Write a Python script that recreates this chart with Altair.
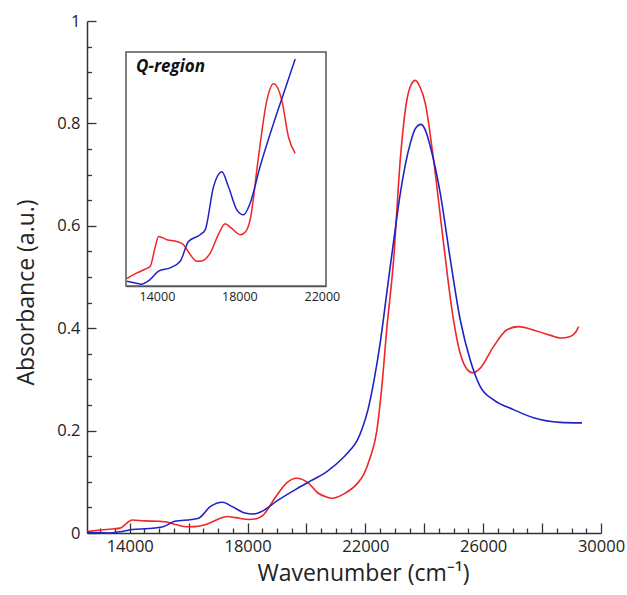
import altair as alt
import pandas as pd

# ---------------- data ----------------
blue_wn = [12550, 13000, 13230, 13675, 14080, 14645, 15130, 15530, 16100, 16340,
           16745, 17150, 17470, 17875, 18200, 18520, 19000, 19655, 20140, 20705,
           21260, 21500, 21715, 21900, 22085, 22300, 22500, 22730, 22960, 23185,
           23525, 23700, 23890, 24050, 24205, 24545, 24885, 25220, 25560, 25900,
           26355, 27030, 27710, 28620, 29355]
blue_ab = [0.0015, 0.0005, 0.0, 0.0025, 0.0069, 0.0087, 0.0122, 0.0228, 0.0264, 0.029,
           0.052, 0.060, 0.052, 0.0397, 0.037, 0.0432, 0.0627, 0.0858, 0.1017, 0.1203,
           0.148, 0.163, 0.180, 0.205, 0.240, 0.30, 0.37, 0.47, 0.57, 0.663,
           0.761, 0.79, 0.798, 0.785, 0.755, 0.663, 0.534, 0.417, 0.338, 0.286,
           0.260, 0.241, 0.225, 0.216, 0.215]

red_wn = [12550, 13030, 13400, 13675, 13918, 14080, 14485, 14970, 15290,
          15600, 15940, 16200, 16585, 17000, 17310, 17600, 18040, 18300, 18520,
          18925, 19330, 19655, 20060, 20380, 20705, 20850, 21320, 21700, 21950,
          22150, 22390, 22550, 22730, 22960, 23185, 23410, 23550, 23695, 23850,
          24035, 24315, 24655, 24940, 25220, 25450, 25650, 25900, 26350, 26810,
          27200, 27830, 28300, 28620, 28960, 29150, 29240]
red_ab = [0.003, 0.006, 0.0078, 0.0095, 0.020, 0.0255, 0.0237, 0.0228, 0.021,
          0.016, 0.0122, 0.0125, 0.0166, 0.027, 0.0322, 0.030, 0.0264, 0.028, 0.0343,
          0.068, 0.098, 0.107, 0.098, 0.0786, 0.0698, 0.068, 0.078, 0.095, 0.115,
          0.145, 0.20, 0.28, 0.40, 0.534, 0.729, 0.846, 0.875, 0.884, 0.872,
          0.839, 0.729, 0.566, 0.436, 0.351, 0.320, 0.313, 0.322, 0.364, 0.397,
          0.403, 0.394, 0.386, 0.381, 0.384, 0.393, 0.403]

series_names = ["red", "blue"]
series_colors = ["#ee2529", "#2222c4"]

x_ticks = list(range(13000, 30001, 500))
y_ticks = [round(i * 0.05, 2) for i in range(21)]
inset_x_ticks = list(range(13000, 22001, 500))

main_x_domain = [12550, 30000]
main_y_domain = [0, 1]
inset_x_domain = [12500, 22200]
inset_y_domain = [-0.001, 0.124]
inset_max_wn = 20710

FONT = "Open Sans"

# ---------------- tables ----------------
df = pd.concat([
    pd.DataFrame({"wn": red_wn, "ab": red_ab, "series": "red"}),
    pd.DataFrame({"wn": blue_wn, "ab": blue_ab, "series": "blue"}),
], ignore_index=True)
df_inset = df[df["wn"] <= inset_max_wn]

color = alt.Color("series:N", scale=alt.Scale(domain=series_names, range=series_colors), legend=None)

# ---------------- main panel ----------------
main_x_axis = alt.Axis(
    title="Wavenumber (cm⁻¹)", values=x_ticks, grid=False,
    tickSize={"expr": "datum.value % 2000 == 0 ? -10 : -5"},
    labelExpr="datum.value % 4000 == 2000 ? format(datum.value, 'd') : ''",
    labelPadding=15, labelFlush=False, labelOverlap=False,
    labelFont=FONT, labelFontSize=16.5, labelColor="#222",
    titleFont=FONT, titleFontSize=23, titleFontWeight="normal", titleColor="#222",
    titlePadding=3, titleX=276,
    domainColor="#333", domainWidth=1.5, tickColor="#333", tickWidth=1.3,
)
main_y_axis = alt.Axis(
    title="Absorbance (a.u.)", values=y_ticks, grid=False,
    tickSize={"expr": "round(datum.value * 100) % 20 == 0 ? -9 : -4.5"},
    labelExpr="round(datum.value * 100) % 20 == 0 ? format(datum.value, '.1~f') : ''",
    labelPadding=16, labelFlush=False, labelOverlap=False,
    labelFont=FONT, labelFontSize=16.5, labelColor="#222",
    titleFont=FONT, titleFontSize=23, titleFontWeight="normal", titleColor="#222",
    titlePadding=18, titleY=271,
    domainColor="#333", domainWidth=1.5, tickColor="#333", tickWidth=1.3,
)

main = alt.Chart(df).mark_line(strokeWidth=1.6, interpolate="monotone").encode(
    x=alt.X("wn:Q", scale=alt.Scale(domain=main_x_domain, nice=False, zero=False), axis=main_x_axis),
    y=alt.Y("ab:Q", scale=alt.Scale(domain=main_y_domain, nice=False), axis=main_y_axis),
    color=color,
)

# ---------------- inset panel ----------------
inset_x_scale = alt.Scale(domain=inset_x_domain, range=[39, 239], nice=False, zero=False)
inset_y_scale = alt.Scale(domain=inset_y_domain, range=[265, 31], nice=False, zero=False)
inset_x_axis = alt.Axis(
    title=None, orient="bottom", offset=-247, values=inset_x_ticks, grid=False,
    tickSize={"expr": "datum.value % 2000 == 0 ? -6 : -3.5"},
    labelExpr="datum.value % 4000 == 2000 ? format(datum.value, 'd') : ''",
    labelPadding=10, labelFlush=False, labelOverlap=False,
    labelFont=FONT, labelFontSize=12.5, labelColor="#222",
    domainColor="#555", domainWidth=1.5, tickColor="#444", tickWidth=1.1,
)

box_df = pd.DataFrame({"x0": [inset_x_domain[0]], "x1": [inset_x_domain[1]],
                       "y0": [inset_y_domain[0]], "y1": [inset_y_domain[1]]})
box = alt.Chart(box_df).mark_rect(fill="white", stroke="#555", strokeWidth=1.5).encode(
    x=alt.X("x0:Q", scale=inset_x_scale, axis=inset_x_axis),
    x2="x1",
    y=alt.Y("y0:Q", scale=inset_y_scale, axis=None),
    y2="y1",
)
inset_lines = alt.Chart(df_inset).mark_line(strokeWidth=1.5, interpolate="monotone").encode(
    x=alt.X("wn:Q", scale=inset_x_scale, axis=inset_x_axis),
    y=alt.Y("ab:Q", scale=inset_y_scale, axis=None),
    color=color,
)
label = alt.Chart(pd.DataFrame({"t": ["Q-region"]})).mark_text(
    font=FONT, fontSize=17, fontStyle="italic", fontWeight="bold",
    align="left", baseline="alphabetic", color="#111",
).encode(x=alt.value(49), y=alt.value(51), text="t:N")

inset = alt.layer(box, inset_lines, label)

chart = alt.layer(main, inset).resolve_scale(
    x="independent", y="independent"
).properties(
    width=514, height=512,
    padding={"left": 87, "top": 21, "right": 26, "bottom": 62},
    autosize="none",
).configure_view(stroke=None)

chart.save("out.html", embed_options={"renderer": "svg", "actions": False})
